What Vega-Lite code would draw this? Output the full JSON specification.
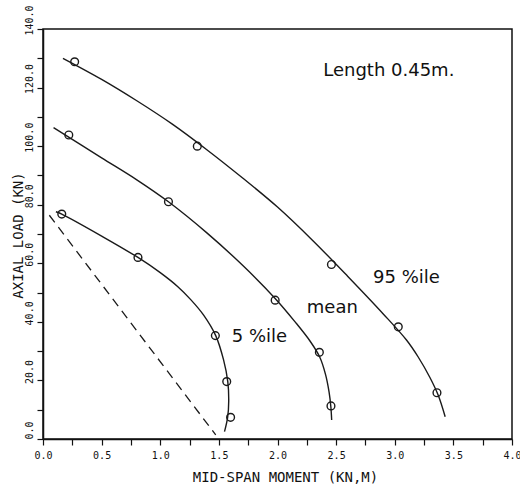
{
  "$schema": "https://vega.github.io/schema/vega-lite/v6.json",
  "width": 469,
  "height": 410,
  "autosize": {"type": "none"},
  "padding": {"left": 43, "top": 29, "right": 8, "bottom": 46},
  "background": "white",
  "view": {"stroke": "#111", "strokeWidth": 1.5},
  "datasets": {
    "curves": [
      {"series": "95", "i": 1, "x": 0.17, "y": 130.0},
      {"series": "95", "i": 2, "x": 0.5, "y": 122.8},
      {"series": "95", "i": 3, "x": 0.8, "y": 115.5},
      {"series": "95", "i": 4, "x": 1.1, "y": 107.6},
      {"series": "95", "i": 5, "x": 1.4, "y": 98.7},
      {"series": "95", "i": 6, "x": 1.7, "y": 89.2},
      {"series": "95", "i": 7, "x": 2.0, "y": 79.2},
      {"series": "95", "i": 8, "x": 2.3, "y": 67.8},
      {"series": "95", "i": 9, "x": 2.6, "y": 55.5},
      {"series": "95", "i": 10, "x": 2.9, "y": 42.8},
      {"series": "95", "i": 11, "x": 3.1, "y": 33.8},
      {"series": "95", "i": 12, "x": 3.2, "y": 28.0},
      {"series": "95", "i": 13, "x": 3.3, "y": 21.0},
      {"series": "95", "i": 14, "x": 3.37, "y": 15.0},
      {"series": "95", "i": 15, "x": 3.43, "y": 7.6},
      {"series": "mean", "i": 1, "x": 0.09, "y": 106.3},
      {"series": "mean", "i": 2, "x": 0.5, "y": 96.0},
      {"series": "mean", "i": 3, "x": 0.8, "y": 88.5},
      {"series": "mean", "i": 4, "x": 1.07, "y": 81.0},
      {"series": "mean", "i": 5, "x": 1.4, "y": 70.3},
      {"series": "mean", "i": 6, "x": 1.7, "y": 59.4},
      {"series": "mean", "i": 7, "x": 1.98, "y": 48.0},
      {"series": "mean", "i": 8, "x": 2.15, "y": 40.0},
      {"series": "mean", "i": 9, "x": 2.28, "y": 33.3},
      {"series": "mean", "i": 10, "x": 2.36, "y": 28.0},
      {"series": "mean", "i": 11, "x": 2.41, "y": 22.0},
      {"series": "mean", "i": 12, "x": 2.44, "y": 16.0},
      {"series": "mean", "i": 13, "x": 2.455, "y": 11.0},
      {"series": "mean", "i": 14, "x": 2.462, "y": 6.5},
      {"series": "5", "i": 1, "x": 0.11, "y": 77.6},
      {"series": "5", "i": 2, "x": 0.16, "y": 76.8},
      {"series": "5", "i": 3, "x": 0.5, "y": 69.3},
      {"series": "5", "i": 4, "x": 0.81, "y": 62.0},
      {"series": "5", "i": 5, "x": 1.0, "y": 56.8},
      {"series": "5", "i": 6, "x": 1.15, "y": 52.0},
      {"series": "5", "i": 7, "x": 1.26, "y": 47.6},
      {"series": "5", "i": 8, "x": 1.37, "y": 42.3},
      {"series": "5", "i": 9, "x": 1.473, "y": 35.3},
      {"series": "5", "i": 10, "x": 1.54, "y": 27.0},
      {"series": "5", "i": 11, "x": 1.576, "y": 19.6},
      {"series": "5", "i": 12, "x": 1.584, "y": 13.0},
      {"series": "5", "i": 13, "x": 1.575, "y": 7.5},
      {"series": "5", "i": 14, "x": 1.548, "y": 2.5}
    ],
    "markers": [
      {"series": "95", "x": 0.27, "y": 128.8},
      {"series": "95", "x": 1.316, "y": 100.0},
      {"series": "95", "x": 2.46, "y": 59.6},
      {"series": "95", "x": 3.03, "y": 38.3},
      {"series": "95", "x": 3.36, "y": 15.8},
      {"series": "mean", "x": 0.22, "y": 103.8},
      {"series": "mean", "x": 1.07, "y": 81.0},
      {"series": "mean", "x": 1.98, "y": 47.4},
      {"series": "mean", "x": 2.357, "y": 29.6},
      {"series": "mean", "x": 2.456, "y": 11.3},
      {"series": "5", "x": 0.16, "y": 76.8},
      {"series": "5", "x": 0.81, "y": 62.0},
      {"series": "5", "x": 1.47, "y": 35.3},
      {"series": "5", "x": 1.567, "y": 19.6},
      {"series": "5", "x": 1.6, "y": 7.4}
    ],
    "dashed": [
      {"i": 1, "x": 0.054, "y": 76.4},
      {"i": 2, "x": 1.473, "y": 1.4}
    ],
    "labels": [
      {"text": "Length  0.45m.", "x": 2.39, "y": 124.0},
      {"text": "95 %ile", "x": 2.815, "y": 53.2},
      {"text": "mean", "x": 2.25, "y": 43.0},
      {"text": "5 %ile", "x": 1.61, "y": 33.2}
    ]
  },
  "encoding": {
    "x": {
      "field": "x",
      "type": "quantitative",
      "scale": {"domain": [0, 4], "nice": false, "zero": false},
      "axis": {
        "title": "MID-SPAN MOMENT (KN,M)",
        "values": [0, 0.25, 0.5, 0.75, 1, 1.25, 1.5, 1.75, 2, 2.25, 2.5, 2.75, 3, 3.25, 3.5, 3.75, 4],
        "labelExpr": "(datum.value * 2) % 1 == 0 ? format(datum.value, '.1f') : ''",
        "grid": false,
        "tickSize": 6,
        "labelPadding": 5,
        "labelFont": "DejaVu Sans Mono",
        "labelFontSize": 10,
        "labelFlush": false,
        "titleFont": "DejaVu Sans Mono",
        "titleFontSize": 14,
        "titleFontWeight": "normal",
        "titleX": 242,
        "titleY": 42,
        "titleBaseline": "alphabetic",
        "titleAnchor": "middle"
      }
    },
    "y": {
      "field": "y",
      "type": "quantitative",
      "scale": {"domain": [0, 140], "nice": false, "zero": false},
      "axis": {
        "title": "AXIAL LOAD (KN)",
        "values": [0, 10, 20, 30, 40, 50, 60, 70, 80, 90, 100, 110, 120, 130, 140],
        "labelExpr": "datum.value % 20 == 0 ? format(datum.value, '.1f') : ''",
        "grid": false,
        "tickSize": 6,
        "labelPadding": 3,
        "labelAngle": 270,
        "labelAlign": "center",
        "labelBaseline": "bottom",
        "labelOffset": -9,
        "labelFont": "DejaVu Sans Mono",
        "labelFontSize": 10,
        "labelFlush": false,
        "titleFont": "DejaVu Sans Mono",
        "titleFontSize": 14,
        "titleFontWeight": "normal",
        "titleAngle": 270,
        "titleX": -25,
        "titleY": 206,
        "titleAlign": "center",
        "titleBaseline": "middle"
      }
    }
  },
  "config": {
    "axis": {
      "domainColor": "#111",
      "domainWidth": 1.5,
      "tickColor": "#111",
      "tickWidth": 1.2,
      "labelColor": "#111",
      "titleColor": "#111"
    }
  },
  "layer": [
    {
      "data": {"name": "curves"},
      "mark": {"type": "line", "interpolate": "catmull-rom", "color": "#1a1a1a", "strokeWidth": 1.4},
      "encoding": {
        "detail": {"field": "series"},
        "order": {"field": "i", "type": "quantitative"}
      }
    },
    {
      "data": {"name": "dashed"},
      "mark": {"type": "line", "color": "#1a1a1a", "strokeWidth": 1.3, "strokeDash": [9, 6]},
      "encoding": {
        "order": {"field": "i", "type": "quantitative"}
      }
    },
    {
      "data": {"name": "markers"},
      "mark": {"type": "point", "shape": "circle", "filled": false, "size": 60, "stroke": "#1a1a1a", "strokeWidth": 1.4, "opacity": 1}
    },
    {
      "data": {"name": "labels"},
      "mark": {"type": "text", "align": "left", "baseline": "alphabetic", "font": "DejaVu Sans", "fontSize": 18, "color": "#111"},
      "encoding": {
        "text": {"field": "text"}
      }
    }
  ]
}
